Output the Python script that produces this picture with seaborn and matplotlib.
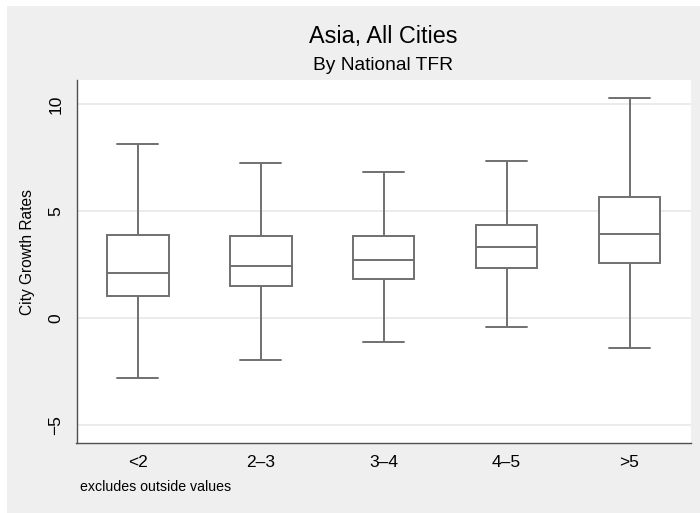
import matplotlib
matplotlib.use("Agg")
import matplotlib.pyplot as plt
import seaborn as sns
import pandas as pd
from matplotlib.patches import Rectangle

# summary values: lower whisker, Q1, median, Q3, upper whisker
categories = ["<2", "2–3", "3–4", "4–5", ">5"]
lower_whisker = [-2.82, -1.98, -1.11, -0.42, -1.39]
q1 = [1.02, 1.51, 1.84, 2.36, 2.59]
median = [2.09, 2.42, 2.72, 3.33, 3.92]
q3 = [3.87, 3.84, 3.86, 4.37, 5.68]
upper_whisker = [8.14, 7.27, 6.81, 7.35, 10.29]
y_ticks = [-5, 0, 5, 10]

# five points per group give exactly these quartiles and extremes
rows = []
for i, cat in enumerate(categories):
    for v in (lower_whisker[i], q1[i], median[i], q3[i], upper_whisker[i]):
        rows.append({"tfr": cat, "growth": v})
df = pd.DataFrame(rows)

sns.set_style("white")
plt.rcParams["font.family"] = ["Liberation Sans", "DejaVu Sans"]

bg = "#efefef"
line_col = "#707070"
axis_col = "#505050"

fig = plt.figure(figsize=(7, 5.13), dpi=100, facecolor="white")
# gray graph region with a thin white border on the left and top
fig.patches.append(Rectangle((7 / 700, 0), 1, (513 - 6) / 513,
                             transform=fig.transFigure, facecolor=bg,
                             edgecolor="none", zorder=-10))
ax = fig.add_axes([76.5 / 700, (513 - 442.7) / 513,
                   (691 - 76.5) / 700, (442.7 - 80) / 513])
ax.set_facecolor("white")

sns.boxplot(data=df, x="tfr", y="growth", order=categories, ax=ax,
            color="white", linecolor=line_col, linewidth=1.4, width=0.5,
            whis=(0, 100), showfliers=False, capwidths=0.333)

ax.set_xlim(-0.5, len(categories) - 0.5)
ax.set_ylim(-5.84, 11.14)
ax.set_yticks(y_ticks)
ax.set_yticklabels([str(t).replace("-", "\u2212") for t in y_ticks])
ax.yaxis.grid(True, color="#e8e8e8", linewidth=1.2)
ax.set_axisbelow(True)

for side in ["top", "right"]:
    ax.spines[side].set_visible(False)
for side in ["left", "bottom"]:
    ax.spines[side].set_color(axis_col)
    ax.spines[side].set_linewidth(1.0)

ax.tick_params(axis="both", length=4.5, width=1.0, color=axis_col,
               labelsize=12.5, labelcolor="black", direction="out")
ax.tick_params(axis="y", labelrotation=90, pad=5)
ax.tick_params(axis="x", pad=4)
for lab in ax.get_yticklabels():
    lab.set_va("center")

ax.set_xlabel("")
ax.set_ylabel("City Growth Rates", fontsize=11.2, color="black")
ax.yaxis.set_label_coords((35 - 76.5) / 614.5, (442.7 - 252) / 362.7)

fig.text(383 / 700, 1 - 37 / 513, "Asia, All Cities", ha="center",
         va="center", fontsize=16.8, color="black")
fig.text(383 / 700, 1 - 65 / 513, "By National TFR", ha="center",
         va="center", fontsize=13.8, color="black")
fig.text(80 / 700, 1 - 487 / 513, "excludes outside values", ha="left",
         va="center", fontsize=10.2, color="black")

fig.savefig("out.png", dpi=100, facecolor=fig.get_facecolor())
plt.close(fig)
